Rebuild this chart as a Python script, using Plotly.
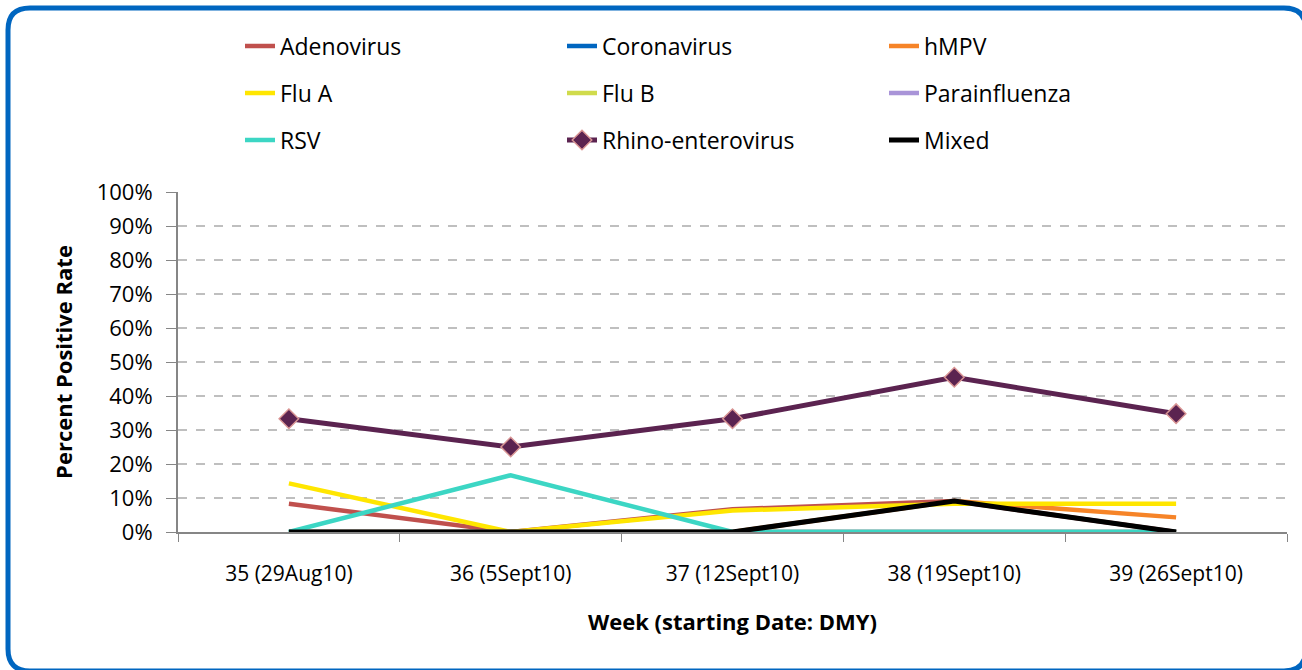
import plotly.graph_objects as go

weeks = ["35 (29Aug10)", "36 (5Sept10)", "37 (12Sept10)", "38 (19Sept10)", "39 (26Sept10)"]

adenovirus = [8.3, 0.0, 6.7, 9.1, 0.0]
coronavirus = [0.0, 0.0, 0.0, 0.0, 0.0]
hmpv = [0.0, 0.0, 0.0, 9.1, 4.3]
flu_a = [14.3, 0.0, 6.3, 8.3, 8.3]
flu_b = [0.0, 0.0, 0.0, 0.0, 0.0]
parainfluenza = [0.0, 0.0, 0.0, 0.0, 0.0]
rsv = [0.0, 16.7, 0.0, 0.0, 0.0]
rhino = [33.3, 25.0, 33.3, 45.5, 34.8]
mixed = [0.0, 0.0, 0.0, 9.1, 0.0]

series = [
    ("Adenovirus", adenovirus, "#C0504D", "legend"),
    ("Coronavirus", coronavirus, "#0066C0", "legend"),
    ("hMPV", hmpv, "#F68428", "legend"),
    ("Flu A", flu_a, "#FFE600", "legend2"),
    ("Flu B", flu_b, "#D0DB4C", "legend2"),
    ("Parainfluenza", parainfluenza, "#A994D8", "legend2"),
    ("RSV", rsv, "#3CD6C4", "legend3"),
    ("Rhino-enterovirus", rhino, "#5B2350", "legend3"),
    ("Mixed", mixed, "#000000", "legend3"),
]

FONT = "Open Sans, sans-serif"
W, H = 1302, 670
L, R, T, B = 178, 15, 192, 138
pw, ph = W - L - R, H - T - B

def px2paper(x, y):
    return (x - L) / pw, (H - B - y) / ph

fig = go.Figure()
for name, vals, color, lg in series:
    pct = [v / 100 for v in vals]
    if name == "Rhino-enterovirus":
        fig.add_trace(go.Scatter(
            x=weeks, y=pct, name=name, mode="lines+markers", legend=lg,
            line=dict(color=color, width=5),
            marker=dict(symbol="diamond", size=15, color=color,
                        line=dict(color="#D99594", width=1.5)),
        ))
    else:
        fig.add_trace(go.Scatter(
            x=weeks, y=pct, name=name, mode="lines", legend=lg,
            line=dict(color=color, width=5 if name == "Mixed" else 4.5),
        ))

# rounded blue border
x0, y0, x1, y1, r = 8, 8, 1306, 671, 22
def P(x, y):
    a, b = px2paper(x, y)
    return f"{a:.5f},{b:.5f}"
path = (f"M {P(x0 + r, y0)} L {P(x1 - r, y0)} Q {P(x1, y0)} {P(x1, y0 + r)} "
        f"L {P(x1, y1 - r)} Q {P(x1, y1)} {P(x1 - r, y1)} "
        f"L {P(x0 + r, y1)} Q {P(x0, y1)} {P(x0, y1 - r)} "
        f"L {P(x0, y0 + r)} Q {P(x0, y0)} {P(x0 + r, y0)} Z")
fig.add_shape(type="path", path=path, xref="paper", yref="paper",
              line=dict(color="#0066C0", width=5), layer="above")

leg_common = dict(orientation="h", xanchor="left", yanchor="middle",
                  font=dict(family=FONT, size=23, color="#000"),
                  entrywidth=277, entrywidthmode="pixels",
                  bgcolor="rgba(0,0,0,0)", itemclick=False)
lx, _ = px2paper(240, 0)
legs = {}
for key, ypix in (("legend", 46), ("legend2", 93), ("legend3", 140)):
    _, ly = px2paper(0, ypix)
    legs[key] = dict(x=lx, y=ly, **leg_common)

fig.update_layout(
    width=W, height=H,
    margin=dict(l=L, r=R, t=T, b=B, autoexpand=False),
    paper_bgcolor="white", plot_bgcolor="white",
    font=dict(family=FONT, size=20, color="#000"),
    showlegend=True,
    **legs,
    xaxis=dict(
        type="category", tickson="boundaries", ticks="outside", ticklen=8,
        tickcolor="#868686", showline=True, linecolor="#868686", linewidth=2,
        showgrid=False, tickfont=dict(size=21), range=[-0.5, 4.5],
        ticklabelstandoff=22,
        title=dict(text="<b>Week (starting Date: DMY)</b>", font=dict(size=22), standoff=28),
    ),
    yaxis=dict(
        range=[0, 1], tickformat=".0%", dtick=0.1, ticks="outside", ticklen=10,
        tickcolor="#868686", showline=True, linecolor="#868686", linewidth=2,
        showgrid=True, gridcolor="#BFBFBF", griddash="dash", gridwidth=1.5,
        tickfont=dict(size=22), ticklabelstandoff=9, zeroline=False,
        title=dict(text="<b>Percent Positive Rate</b>", font=dict(size=22), standoff=18),
    ),
)

fig.write_html("out.html", config={"displayModeBar": False},
               post_script="document.body.style.margin='0';")
